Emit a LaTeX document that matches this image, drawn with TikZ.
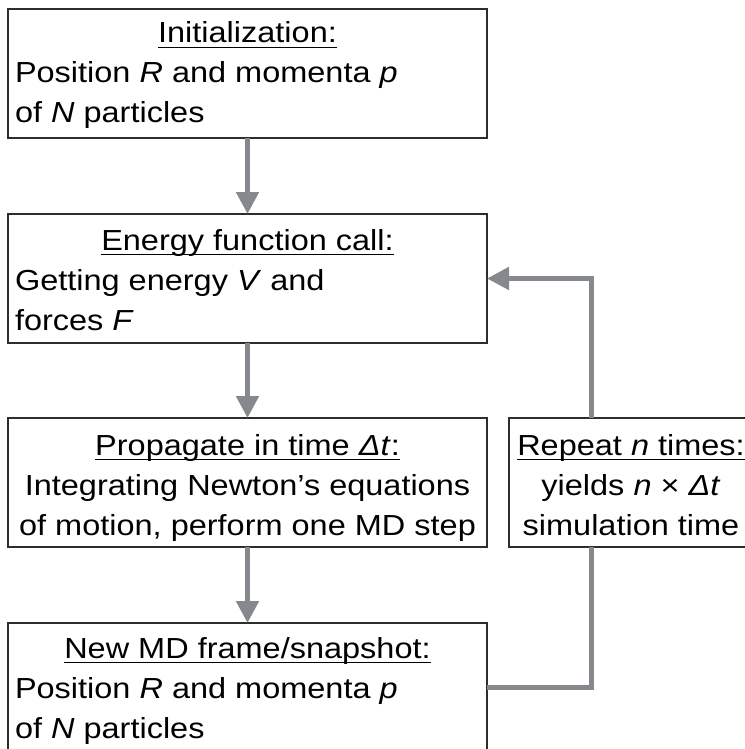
\documentclass[tikz,border=0pt]{standalone}
\usepackage{fontspec}
\setmainfont{Liberation Sans}[FakeStretch=1.12]
\usetikzlibrary{arrows.meta}
\definecolor{linegray}{RGB}{133,136,140}
\definecolor{boxc}{RGB}{45,45,45}
\newcommand\hdline[1]{\setbox0\hbox{#1}\rlap{\rule[-5.2pt]{\wd0}{1.5pt}}\box0}
\tikzset{
  boxnode/.style={draw=boxc, line width=1.5pt, inner sep=0pt, outer sep=0pt, anchor=north west, fill=none},
  txt/.style={inner sep=0pt, outer sep=0pt, font=\fontsize{29}{40}\selectfont, text=black},
  conn/.style={draw=linegray, line width=5pt, -{Triangle[length=22pt,width=22pt]}},
  loopline/.style={draw=linegray, line width=5pt},
}
\begin{document}
\begin{tikzpicture}[x=1pt,y=-1pt]
\useasboundingbox (0,0) rectangle (744,749);
% boxes
\node[boxnode, minimum width=479pt, minimum height=129pt] (b1) at (8,9) {};
\node[boxnode, minimum width=479pt, minimum height=129pt] (b2) at (8,214) {};
\node[boxnode, minimum width=479pt, minimum height=129pt] (b3) at (8,418) {};
\node[boxnode, minimum width=280pt, minimum height=129pt] (b4) at (509,418) {};
\node[boxnode, minimum width=479pt, minimum height=128pt] (b5) at (8,623) {};
% box 1
\node[txt, anchor=base] (h1) at (247.5,43) {\hdline{Initialization:}};
\node[txt, anchor=base west] (l1a) at (15,83) {Position \textit{R} and momenta \textit{p}};
\node[txt, anchor=base west] (l1b) at (15,123) {of \textit{N} particles};
% box 2
\node[txt, anchor=base] (h2) at (247.5,250) {\hdline{Energy function call:}};
\node[txt, anchor=base west] (l2a) at (15,290) {Getting energy \textit{V} and};
\node[txt, anchor=base west] (l2b) at (15,330) {forces \textit{F}};
% box 3
\node[txt, anchor=base] (h3) at (247.5,455) {\hdline{Propagate in time \textit{Δt}:}};
\node[txt, anchor=base] (l3a) at (247.5,495) {Integrating Newton's equations};
\node[txt, anchor=base] (l3b) at (247.5,535) {of motion, perform one MD step};
% box 4
\node[txt, anchor=base] (h4) at (631,455) {\hdline{Repeat \textit{n} times:}};
\node[txt, anchor=base] (l4a) at (631,495) {yields \textit{n} × \textit{Δt}};
\node[txt, anchor=base] (l4b) at (631,535) {simulation time};
% box 5
\node[txt, anchor=base] (h5) at (247.5,658) {\hdline{New MD frame/snapshot:}};
\node[txt, anchor=base west] (l5a) at (15,698) {Position \textit{R} and momenta \textit{p}};
\node[txt, anchor=base west] (l5b) at (15,738) {of \textit{N} particles};
% connectors
\draw[conn] (b1.south) -- (b2.north);
\draw[conn] (b2.south) -- (b3.north);
\draw[conn] (b3.south) -- (b5.north);
\coordinate (lx) at (591,500);
\draw[loopline] (b5.east) -| (lx |- b4.south);
\draw[conn] (lx |- b4.north) |- (b2.east);
\end{tikzpicture}
\end{document}
